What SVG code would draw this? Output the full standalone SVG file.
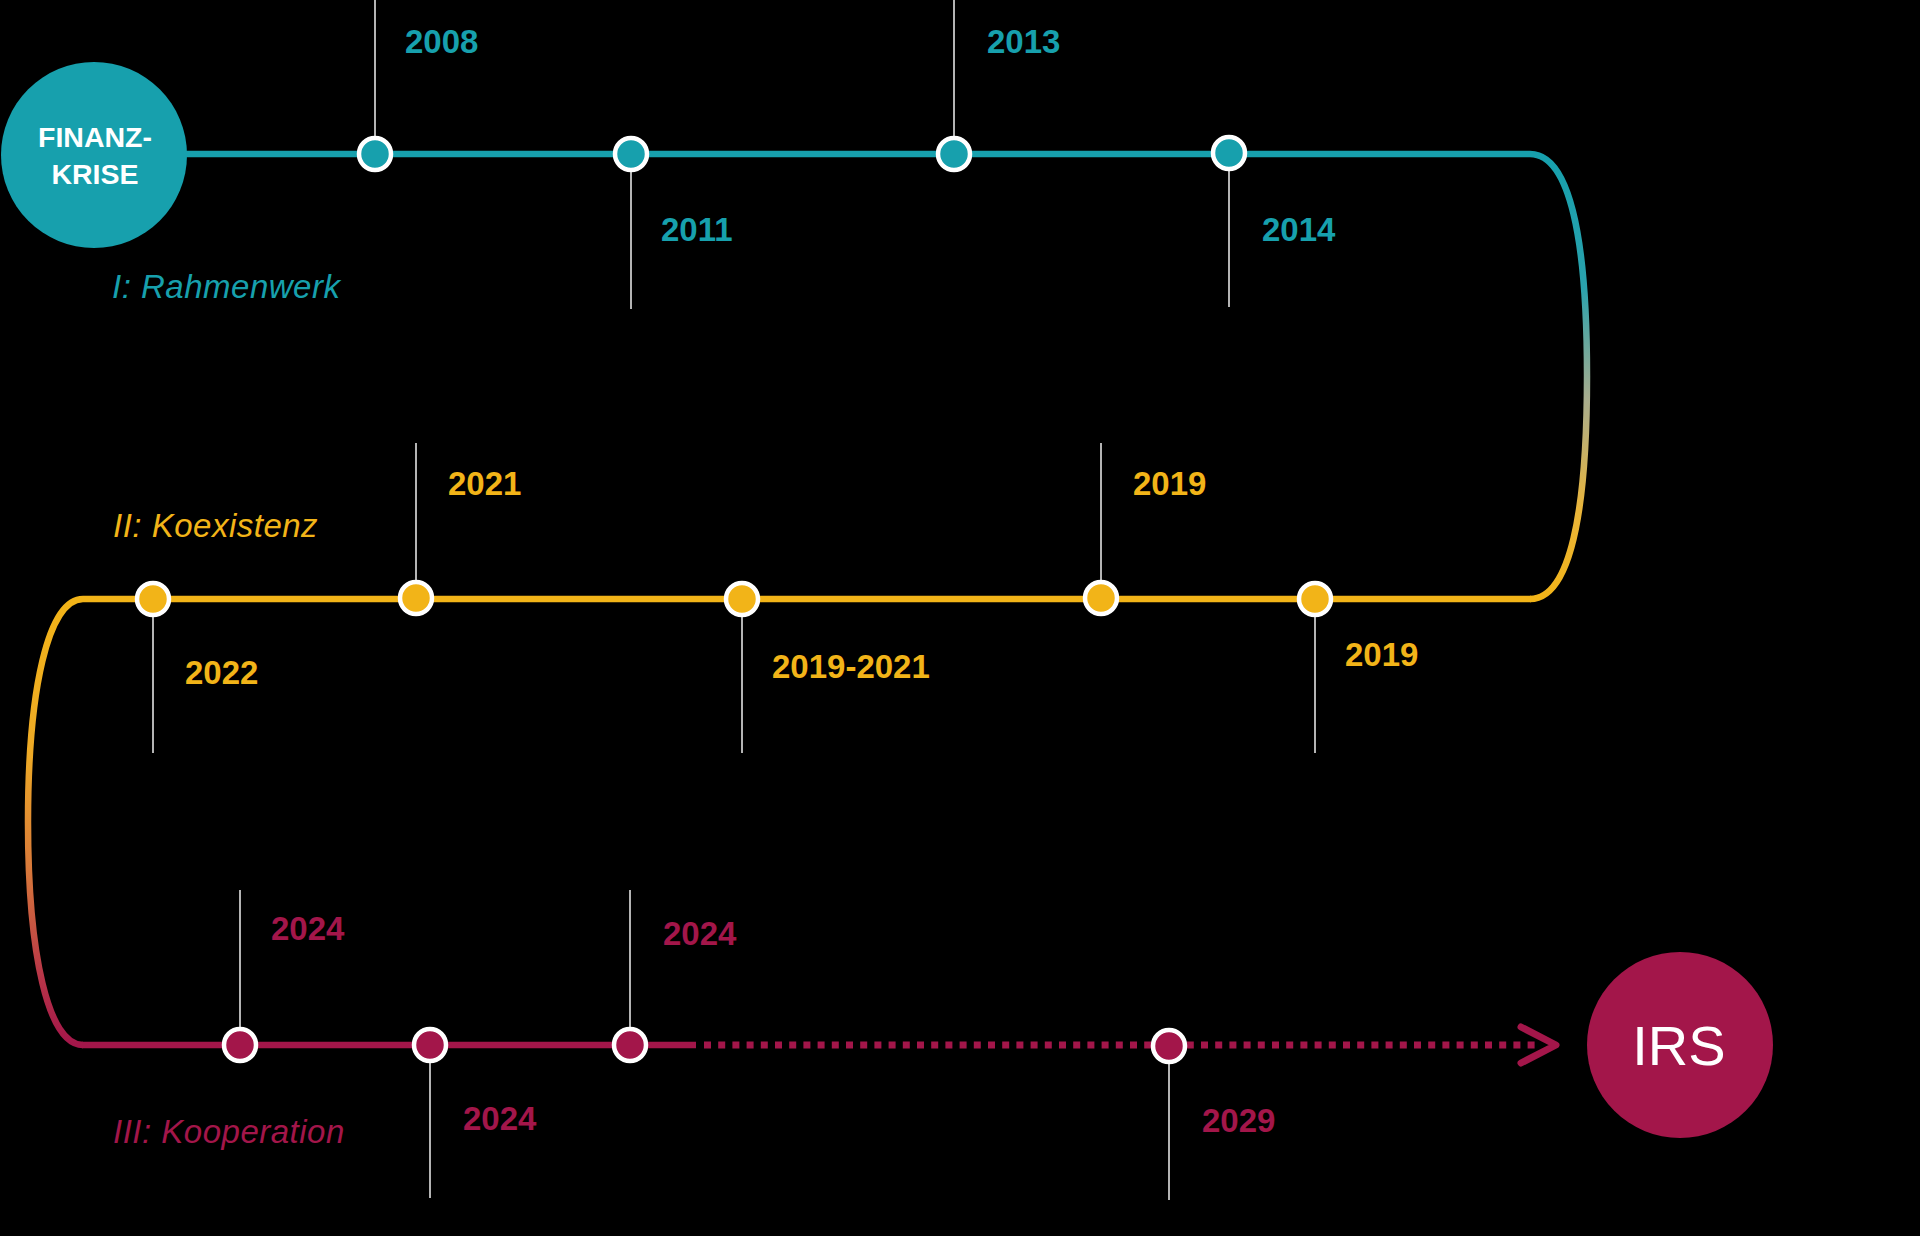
<svg xmlns="http://www.w3.org/2000/svg" width="1920" height="1236" viewBox="0 0 1920 1236">
  <defs>
    <linearGradient id="gRight" gradientUnits="userSpaceOnUse" x1="0" y1="154" x2="0" y2="599">
      <stop offset="0" stop-color="#17a0ad"/>
      <stop offset="0.3" stop-color="#2aa2ad"/>
      <stop offset="0.55" stop-color="#a8ad8e"/>
      <stop offset="0.8" stop-color="#eab53a"/>
      <stop offset="1" stop-color="#f2b418"/>
    </linearGradient>
    <linearGradient id="gLeft" gradientUnits="userSpaceOnUse" x1="0" y1="599" x2="0" y2="1045">
      <stop offset="0" stop-color="#f2b418"/>
      <stop offset="0.35" stop-color="#eeaa26"/>
      <stop offset="0.6" stop-color="#d97a3a"/>
      <stop offset="0.85" stop-color="#b73448"/>
      <stop offset="1" stop-color="#a3164a"/>
    </linearGradient>
  </defs>
  <style>
    .bg { fill: #000000; }
    .teal { stroke: #17a0ad; }
    .yel { stroke: #f2b418; }
    .crim { stroke: #a3164a; }
    .track { fill: none; stroke-width: 6.5; }
    .tick { stroke: #b4b4b4; stroke-width: 2; fill: none; }
    .dot { stroke: #ffffff; stroke-width: 4.5; }
    .nT { fill: #17a0ad; }
    .nY { fill: #f2b418; }
    .nC { fill: #a3164a; }
    .yr { font-family: "Liberation Sans", Arial, sans-serif; font-weight: bold; font-size: 33px; }
    .tT { fill: #17a0ad; }
    .tY { fill: #f2b418; }
    .tC { fill: #a3164a; }
    .phase { font-family: "Liberation Sans", Arial, sans-serif; font-style: italic; font-size: 33px; letter-spacing: 0.5px; }
    .big { font-family: "Liberation Sans", Arial, sans-serif; fill: #ffffff; text-anchor: middle; }
  </style>
  <rect class="bg" x="0" y="0" width="1920" height="1236"/>

  <g id="connectors">
    <line class="track teal" x1="150" y1="154" x2="1530" y2="154"/>
    <path class="track" stroke="url(#gRight)" d="M1530,154 C1570,154 1587,240 1587,376 C1587,512 1570,599 1530,599"/>
    <line class="track yel" x1="83" y1="599" x2="1531" y2="599"/>
    <path class="track" stroke="url(#gLeft)" d="M83,599 C48,599 28,690 28,822 C28,954 48,1045 83,1045"/>
    <line class="track crim" x1="82" y1="1045" x2="696" y2="1045"/>
    <line class="crim" x1="704" y1="1045" x2="1540" y2="1045" stroke-width="7" stroke-dasharray="7 7.2" fill="none"/>
    <polyline class="crim" points="1521,1027 1556,1045 1521,1063" fill="none" stroke-width="7" stroke-linecap="round" stroke-linejoin="round"/>

    <line class="tick" x1="375" y1="0" x2="375" y2="154"/>
    <line class="tick" x1="631" y1="154" x2="631" y2="309"/>
    <line class="tick" x1="954" y1="0" x2="954" y2="154"/>
    <line class="tick" x1="1229" y1="154" x2="1229" y2="307"/>

    <line class="tick" x1="416" y1="443" x2="416" y2="599"/>
    <line class="tick" x1="1101" y1="443" x2="1101" y2="599"/>
    <line class="tick" x1="153" y1="599" x2="153" y2="753"/>
    <line class="tick" x1="742" y1="599" x2="742" y2="753"/>
    <line class="tick" x1="1315" y1="599" x2="1315" y2="753"/>

    <line class="tick" x1="240" y1="890" x2="240" y2="1045"/>
    <line class="tick" x1="630" y1="890" x2="630" y2="1045"/>
    <line class="tick" x1="430" y1="1045" x2="430" y2="1198"/>
    <line class="tick" x1="1169" y1="1045" x2="1169" y2="1200"/>
  </g>

  <g id="finanzkrise">
    <circle cx="94" cy="155" r="93" fill="#17a0ad"/>
    <text class="big" x="95" y="147" font-size="28.5" font-weight="bold">FINANZ-</text>
    <text class="big" x="95" y="184" font-size="28.5" font-weight="bold">KRISE</text>
  </g>

  <g id="irs">
    <circle cx="1680" cy="1045" r="93" fill="#a3164a"/>
    <text class="big" x="1679" y="1065" font-size="56">IRS</text>
  </g>

  <g id="phase-labels">
    <text class="phase tT" x="112" y="298">I: Rahmenwerk</text>
    <text class="phase tY" x="113" y="537">II: Koexistenz</text>
    <text class="phase tC" x="113" y="1143">III: Kooperation</text>
  </g>

  <g id="n2008"><circle class="dot nT" cx="375" cy="154" r="16"/><text class="yr tT" x="405" y="53">2008</text></g>
  <g id="n2011"><circle class="dot nT" cx="631" cy="154" r="16"/><text class="yr tT" x="661" y="241">2011</text></g>
  <g id="n2013"><circle class="dot nT" cx="954" cy="154" r="16"/><text class="yr tT" x="987" y="53">2013</text></g>
  <g id="n2014"><circle class="dot nT" cx="1229" cy="153" r="16"/><text class="yr tT" x="1262" y="241">2014</text></g>

  <g id="n2022"><circle class="dot nY" cx="153" cy="599" r="16"/><text class="yr tY" x="185" y="684">2022</text></g>
  <g id="n2021"><circle class="dot nY" cx="416" cy="598" r="16"/><text class="yr tY" x="448" y="495">2021</text></g>
  <g id="n2019-2021"><circle class="dot nY" cx="742" cy="599" r="16"/><text class="yr tY" x="772" y="678">2019-2021</text></g>
  <g id="n2019a"><circle class="dot nY" cx="1101" cy="598" r="16"/><text class="yr tY" x="1133" y="495">2019</text></g>
  <g id="n2019b"><circle class="dot nY" cx="1315" cy="599" r="16"/><text class="yr tY" x="1345" y="666">2019</text></g>

  <g id="n2024a"><circle class="dot nC" cx="240" cy="1045" r="16"/><text class="yr tC" x="271" y="940">2024</text></g>
  <g id="n2024b"><circle class="dot nC" cx="430" cy="1045" r="16"/><text class="yr tC" x="463" y="1130">2024</text></g>
  <g id="n2024c"><circle class="dot nC" cx="630" cy="1045" r="16"/><text class="yr tC" x="663" y="945">2024</text></g>
  <g id="n2029"><circle class="dot nC" cx="1169" cy="1046" r="16"/><text class="yr tC" x="1202" y="1132">2029</text></g>
</svg>
